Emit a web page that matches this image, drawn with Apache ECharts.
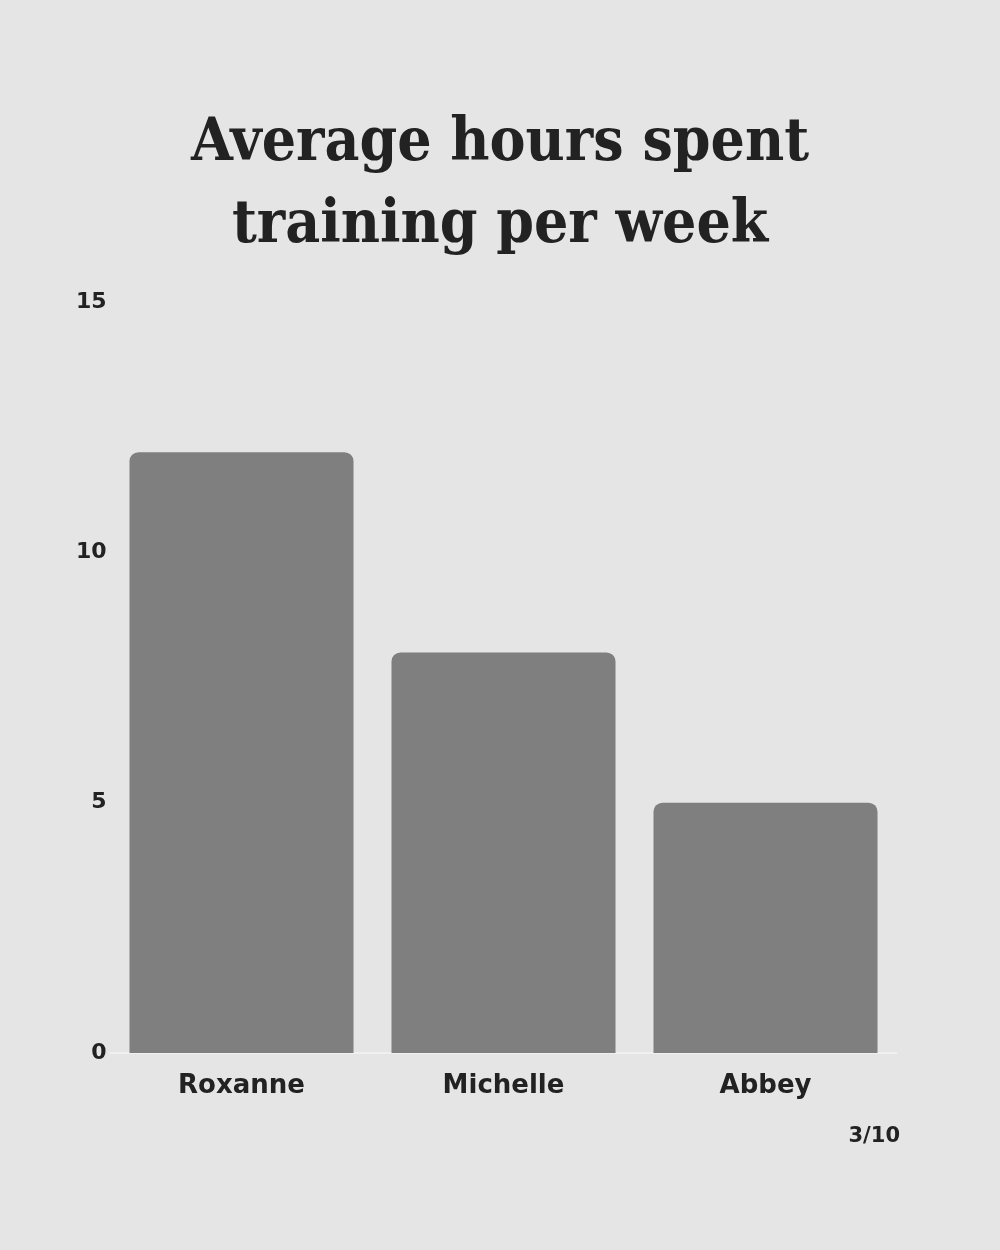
<!DOCTYPE html>
<html><head><meta charset="utf-8">
<script src="https://cdn.jsdelivr.net/npm/echarts@6/dist/echarts.min.js"></script>
<style>html,body{margin:0;padding:0;background:#e5e5e5;}#c{width:1000px;height:1250px;}</style>
</head><body><div id="c"></div>
<script>
const categories = ["Roxanne", "Michelle", "Abbey"];
const hours = [12, 8, 5];
const titleLines = ["Average hours spent", "training per week"];
const pageLabel = "3/10";

const chart = echarts.init(document.getElementById('c'), null, {renderer: 'canvas'});
chart.setOption({
  backgroundColor: '#e5e5e5',
  animation: false,
  title: [{
    text: titleLines.join('\n'),
    left: 'center', top: 98,
    textStyle: {fontFamily: '"DejaVu Serif Condensed", "DejaVu Serif", serif', fontWeight: 'bold', fontSize: 60, lineHeight: 82, color: '#222222'}
  }, {
    text: pageLabel,
    right: 95, top: 1121,
    textStyle: {fontFamily: '"DejaVu Sans", sans-serif', fontWeight: 'bold', fontSize: 21, color: '#222222'}
  }],
  grid: {left: 110.5, right: 103.5, top: 302, bottom: 197, containLabel: false},
  xAxis: {
    type: 'category', data: categories,
    axisLine: {show: true, lineStyle: {color: '#f0f0f0', width: 2}},
    axisTick: {show: false},
    axisLabel: {margin: 20, fontFamily: '"DejaVu Sans", sans-serif', fontWeight: 'bold', fontSize: 26, color: '#222222'}
  },
  yAxis: {
    type: 'value', min: 0, max: 15, interval: 5,
    splitLine: {show: false},
    axisLine: {show: false}, axisTick: {show: false},
    axisLabel: {margin: 4, fontFamily: '"DejaVu Sans", sans-serif', fontWeight: 'bold', fontSize: 22, color: '#222222'}
  },
  series: [{
    type: 'bar', data: hours,
    barCategoryGap: '14.5%',
    itemStyle: {color: '#7f7f7f', borderRadius: [9, 9, 0, 0]}
  }]
});
</script></body></html>
